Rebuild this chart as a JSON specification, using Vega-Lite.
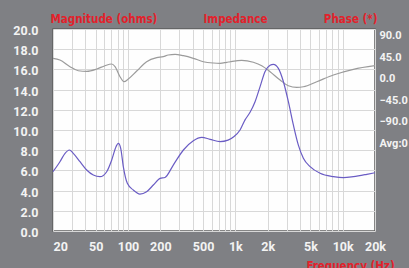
{
  "$schema": "https://vega.github.io/schema/vega-lite/v6.json",
  "width": 322,
  "height": 202,
  "autosize": "none",
  "padding": {"left": 53, "top": 29, "right": 34, "bottom": 37},
  "background": "#7f8084",
  "config": {
    "view": {"stroke": "#5e5e5e", "strokeWidth": 1.5, "fill": "#fefefe"},
    "axis": {
      "labelFont": "Roboto, sans-serif",
      "labelFontWeight": "bold",
      "labelFontSize": 12.5,
      "labelColor": "#f3f3f3",
      "titleFont": "DejaVu Sans Condensed, Roboto, sans-serif",
      "titleFontWeight": "bold",
      "titleFontSize": 11.5,
      "titleColor": "#e3212b",
      "gridColor": "#d8d8d8",
      "gridWidth": 1,
      "ticks": false,
      "tickSize": 0,
      "domain": false
    }
  },
  "datasets": {
    "mag": [
      {"f": 20, "v": 5.87}, {"f": 23.2, "v": 6.86}, {"f": 25.9, "v": 7.69}, {"f": 28.4, "v": 8.02},
      {"f": 30.9, "v": 7.69}, {"f": 35.7, "v": 6.86}, {"f": 41.2, "v": 6.04}, {"f": 47.5, "v": 5.54},
      {"f": 54.8, "v": 5.38}, {"f": 63.3, "v": 5.87}, {"f": 70.5, "v": 7.03}, {"f": 77.3, "v": 8.35},
      {"f": 81.2, "v": 8.68}, {"f": 85.5, "v": 8.19}, {"f": 90.4, "v": 6.37}, {"f": 98.5, "v": 4.72},
      {"f": 112, "v": 4.06}, {"f": 129, "v": 3.66}, {"f": 149, "v": 3.89}, {"f": 172, "v": 4.55},
      {"f": 199, "v": 5.21}, {"f": 221, "v": 5.3}, {"f": 264, "v": 6.53}, {"f": 328, "v": 8.02},
      {"f": 406, "v": 8.94}, {"f": 486, "v": 9.27}, {"f": 581, "v": 9.08}, {"f": 720, "v": 8.85},
      {"f": 855, "v": 9.0}, {"f": 973, "v": 9.35}, {"f": 1106, "v": 10.0}, {"f": 1231, "v": 11.0},
      {"f": 1371, "v": 11.75}, {"f": 1526, "v": 12.8}, {"f": 1700, "v": 14.3}, {"f": 1892, "v": 15.8},
      {"f": 2106, "v": 16.4}, {"f": 2260, "v": 16.5}, {"f": 2516, "v": 16.1}, {"f": 2800, "v": 14.8},
      {"f": 3118, "v": 12.8}, {"f": 3471, "v": 10.5}, {"f": 3864, "v": 8.5}, {"f": 4302, "v": 7.2},
      {"f": 4970, "v": 6.37}, {"f": 6158, "v": 5.71}, {"f": 8192, "v": 5.38}, {"f": 10154, "v": 5.28},
      {"f": 12580, "v": 5.38}, {"f": 16774, "v": 5.61}, {"f": 20000, "v": 5.77}
    ],
    "phase": [
      {"f": 20, "v": 42.4}, {"f": 23.2, "v": 38.9}, {"f": 28.8, "v": 24.9}, {"f": 34.4, "v": 16.5},
      {"f": 41.2, "v": 15.3}, {"f": 51.1, "v": 20.1}, {"f": 61, "v": 27.0}, {"f": 70.5, "v": 30.5},
      {"f": 75.7, "v": 24.9}, {"f": 84.2, "v": 4.0}, {"f": 91.8, "v": -6.4}, {"f": 100.6, "v": -0.8},
      {"f": 120.5, "v": 15.9}, {"f": 149, "v": 35.3}, {"f": 185, "v": 43.7}, {"f": 213, "v": 45.8},
      {"f": 237, "v": 49.3}, {"f": 274, "v": 50.8}, {"f": 328, "v": 47.9}, {"f": 406, "v": 42.4},
      {"f": 503, "v": 35.3}, {"f": 624, "v": 32.6}, {"f": 720, "v": 32.0}, {"f": 831, "v": 34.1},
      {"f": 893, "v": 35.3}, {"f": 1147, "v": 38.3}, {"f": 1471, "v": 34.1}, {"f": 1762, "v": 27.0},
      {"f": 2106, "v": 14.5}, {"f": 2610, "v": -2.9}, {"f": 3118, "v": -14.8}, {"f": 3734, "v": -18.1},
      {"f": 4302, "v": -16.9}, {"f": 5736, "v": -6.4}, {"f": 8192, "v": 7.6}, {"f": 12580, "v": 19.5},
      {"f": 20000, "v": 27.0}
    ]
  },
  "layer": [
    {
      "data": {"name": "phase"},
      "mark": {"type": "line", "color": "#9b9b9b", "strokeWidth": 1.2, "interpolate": "monotone"},
      "encoding": {
        "x": {
          "field": "f", "type": "quantitative",
          "scale": {"type": "log", "domain": [20, 20000]},
          "axis": {
            "orient": "top",
            "values": [20, 30, 40, 50, 60, 70, 80, 90, 100, 200, 300, 400, 500, 600, 700, 800, 900, 1000, 2000, 3000, 4000, 5000, 6000, 7000, 8000, 9000, 10000, 20000],
            "labels": false,
            "grid": true,
            "title": "Impedance",
            "titleX": 150, "titleY": -6.3, "titleAlign": "left", "titleBaseline": "alphabetic", "titleAngle": 0
          }
        },
        "y": {
          "field": "v", "type": "quantitative",
          "scale": {"domain": [-318, 103.6], "nice": false, "zero": false},
          "axis": {
            "orient": "right",
            "values": [90, 45, 0, -45, -90, -135],
            "labelExpr": "datum.value == -135 ? 'Avg:0' : format(datum.value, '.1f')",
            "labelPadding": 4,
            "labelFontSize": 11,
            "labelBaseline": "middle",
            "grid": false,
            "title": "Phase (*)",
            "titleX": -51.7, "titleY": -6.3, "titleAlign": "left", "titleBaseline": "alphabetic", "titleAngle": 0
          }
        }
      }
    },
    {
      "data": {"name": "mag"},
      "mark": {"type": "line", "color": "#6a5cc4", "strokeWidth": 1.2, "interpolate": "monotone"},
      "encoding": {
        "x": {
          "field": "f", "type": "quantitative",
          "scale": {"type": "log", "domain": [20, 20000]},
          "axis": {
            "orient": "bottom",
            "values": [20, 50, 100, 200, 500, 1000, 2000, 5000, 10000, 20000],
            "labelExpr": "datum.value >= 1000 ? (datum.value / 1000) + 'k' : datum.value + ''",
            "labelAlign": {"condition": {"test": "datum.value <= 20", "value": "left"}, "value": "center"},
            "labelPadding": 9,
            "grid": false,
            "title": "Frequency (Hz)",
            "titleX": 297, "titleY": 38, "titleAlign": "center", "titleBaseline": "alphabetic"
          }
        },
        "y": {
          "field": "v", "type": "quantitative",
          "scale": {"domain": [0, 20], "nice": false},
          "axis": {
            "orient": "left",
            "values": [0, 2, 4, 6, 8, 10, 12, 14, 16, 18, 20],
            "format": ".1f",
            "labelPadding": 15,
            "labelBaseline": "middle",
            "labelOffset": 1.5,
            "grid": true,
            "title": "Magnitude (ohms)",
            "titleX": -3, "titleY": -6.3, "titleAlign": "left", "titleBaseline": "alphabetic", "titleAngle": 0
          }
        }
      }
    }
  ],
  "resolve": {
    "scale": {"x": "independent", "y": "independent"},
    "axis": {"x": "independent", "y": "independent"}
  }
}
